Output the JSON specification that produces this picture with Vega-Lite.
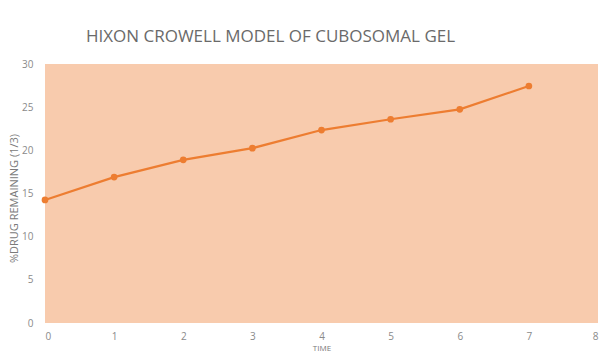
{
  "$schema": "https://vega.github.io/schema/vega-lite/v6.json",
  "width": 553,
  "height": 259,
  "autosize": {"type": "none"},
  "padding": {"left": 45, "top": 64, "right": 2, "bottom": 33},
  "background": "white",
  "title": {
    "text": "HIXON CROWELL MODEL OF CUBOSOMAL GEL",
    "font": "Open Sans",
    "fontSize": 17,
    "fontWeight": "normal",
    "color": "#6a6a6a",
    "anchor": "middle",
    "dx": -51,
    "offset": 13
  },
  "config": {
    "view": {"fill": "#f8cbad", "stroke": null},
    "axis": {
      "grid": false,
      "domain": false,
      "ticks": false,
      "labelFont": "Open Sans",
      "labelFontSize": 10,
      "labelColor": "#8a8a8a",
      "labelOverlap": false,
      "titleFont": "Open Sans",
      "titleFontWeight": "normal",
      "titleColor": "#7a7a7a"
    }
  },
  "data": {
    "values": [
      {"time": 0, "remaining": 14.25},
      {"time": 1, "remaining": 16.9},
      {"time": 2, "remaining": 18.9},
      {"time": 3, "remaining": 20.25},
      {"time": 4, "remaining": 22.35},
      {"time": 5, "remaining": 23.6},
      {"time": 6, "remaining": 24.75},
      {"time": 7, "remaining": 27.45}
    ]
  },
  "encoding": {
    "x": {
      "field": "time",
      "type": "quantitative",
      "scale": {"domain": [0, 8], "nice": false},
      "axis": {
        "title": "TIME",
        "values": [0, 1, 2, 3, 4, 5, 6, 7, 8],
        "labelPadding": 8,
        "titleFontSize": 8,
        "titlePadding": 3
      }
    },
    "y": {
      "field": "remaining",
      "type": "quantitative",
      "scale": {"domain": [0, 30], "nice": false},
      "axis": {
        "title": "%DRUG REMAINING (1/3)",
        "values": [0, 5, 10, 15, 20, 25, 30],
        "labelPadding": 12,
        "titleFontSize": 11,
        "titleX": -31,
        "titleY": 134,
        "titleAngle": -90,
        "titleBaseline": "middle"
      }
    }
  },
  "layer": [
    {"mark": {"type": "line", "color": "#ed7d31", "strokeWidth": 2.2}},
    {"mark": {"type": "point", "filled": true, "color": "#ed7d31", "opacity": 1, "size": 45}}
  ]
}
